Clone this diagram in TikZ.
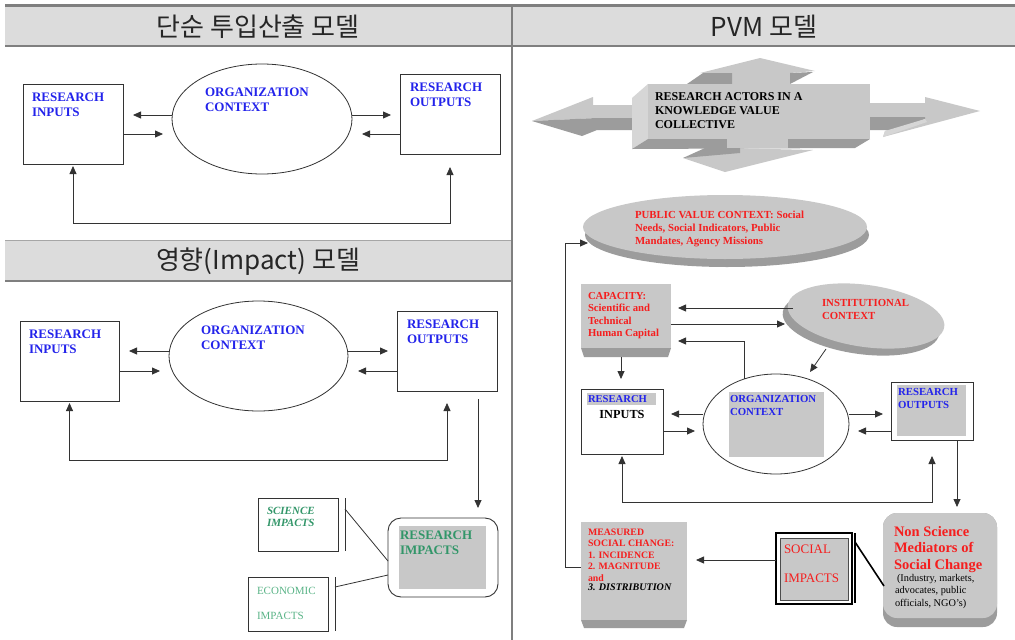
\documentclass[tikz,border=0pt]{standalone}
\usepackage{fontspec}
\setmainfont{Liberation Serif}
\newfontfamily\krfont{Noto Sans CJK KR}
\usetikzlibrary{arrows.meta,shapes.geometric,calc}
\definecolor{hdr}{HTML}{DCDCDC}
\definecolor{hdrline}{HTML}{7F7F7F}
\definecolor{blu}{RGB}{35,35,235}
\definecolor{grn}{RGB}{50,150,105}
\definecolor{grnl}{RGB}{90,180,135}
\definecolor{rd}{RGB}{245,30,30}
\definecolor{face}{HTML}{C8C8C8}
\definecolor{dark}{HTML}{9C9C9C}
\definecolor{lite}{HTML}{D6D6D6}
\definecolor{lnc}{HTML}{333333}
\newcommand{\myfs}[2]{\fontsize{#1}{#2}\selectfont}
\begin{document}
\begin{tikzpicture}[x=1pt,y=-1pt,
  bx/.style={draw=lnc, line width=0.8pt, fill=white, rectangle, inner sep=0pt, outer sep=0pt},
  el/.style={draw=lnc, line width=0.8pt, fill=white, ellipse, inner sep=0pt, outer sep=0pt},
  tx/.style={anchor=north west, inner sep=0pt, outer sep=0pt, align=left},
  ln/.style={draw=lnc, line width=0.8pt},
  arr/.style={ln, -{Triangle[length=8pt,width=7pt]}},
  arrb/.style={ln, {Triangle[length=8pt,width=7pt]}-{Triangle[length=8pt,width=7pt]}},
  hd/.style={inner sep=0pt, font=\krfont\myfs{26}{30}, text=black!85},
  flat/.style={fill=face, rectangle, inner sep=0pt, outer sep=0pt},
]
\useasboundingbox (0,0) rectangle (1015,640);
\fill[white] (0,0) rectangle (1015,640);
% headers
\fill[hdr] (5,7) rectangle (1015,46);
\fill[hdrline] (5,4) rectangle (1015,7);
\draw[hdrline, line width=1.2pt] (5,46) -- (1015,46);
\fill[hdr] (5,240) rectangle (512,281);
\draw[black!35, line width=0.8pt] (5,240) -- (512,240);
\draw[hdrline, line width=1.2pt] (5,281) -- (512,281);
\draw[hdrline, line width=1.2pt] (512,7) -- (512,640);
\node[hd] (h1) at (258,27) {단순 투입산출 모델};
\node[hd] (h2) at (764,27) {PVM 모델};
\node[hd] (h3) at (258,262) {영향(Impact) 모델};

% ---------- panel 1
\node[bx, minimum width=100pt, minimum height=80pt] (in1) at (73,124) {};
\node[el, minimum width=180pt, minimum height=110pt] (ell1) at (262,119) {};
\node[bx, minimum width=100pt, minimum height=80pt] (out1) at (450,114) {};
\node[tx, text=blu, font=\bfseries\myfs{13}{15}] (in1t) at (32,93) {RESEARCH\\INPUTS};
\node[tx, text=blu, font=\bfseries\myfs{13}{15}] (ell1t) at (205,88) {ORGANIZATION\\CONTEXT};
\node[tx, text=blu, font=\bfseries\myfs{13}{15}] (out1t) at (410,83) {RESEARCH\\OUTPUTS};
\draw[arr] ($(ell1.west)+(0,-4)$) -- ($(in1.east)+(10,-9)$);
\draw[arr] ($(in1.east)+(0,10)$) -- ($(ell1.west)+(-9,15)$);
\draw[arr] ($(ell1.east)+(0,-4)$) -- ($(out1.west)+(-9,1)$);
\draw[arr] ($(out1.west)+(0,20)$) -- ($(ell1.east)+(10,15)$);
\draw[arrb] ($(in1.south)+(0,2)$) |- ($(out1.south)+(0,69)$) -- ($(out1.south)+(0,13)$);

% ---------- panel 2
\node[bx, minimum width=99pt, minimum height=80pt] (in2) at (69.5,361) {};
\node[el, minimum width=179pt, minimum height=110pt] (ell2) at (258.5,356) {};
\node[bx, minimum width=100pt, minimum height=80pt] (out2) at (447,351) {};
\node[tx, text=blu, font=\bfseries\myfs{13}{15}] (in2t) at (29,330) {RESEARCH\\INPUTS};
\node[tx, text=blu, font=\bfseries\myfs{13}{15}] (ell2t) at (201,326) {ORGANIZATION\\CONTEXT};
\node[tx, text=blu, font=\bfseries\myfs{13}{15}] (out2t) at (407,320) {RESEARCH\\OUTPUTS};
\draw[arr] ($(ell2.west)+(0,-5)$) -- ($(in2.east)+(10,-10)$);
\draw[arr] ($(in2.east)+(0,10)$) -- ($(ell2.west)+(-9,15)$);
\draw[arr] ($(ell2.east)+(0,-5)$) -- ($(out2.west)+(-9,0)$);
\draw[arr] ($(out2.west)+(0,20)$) -- ($(ell2.east)+(10,15)$);
\draw[arrb] ($(in2.south)+(0,2)$) |- ($(out2.south)+(0,69)$) -- ($(out2.south)+(0,12)$);

\node[draw=lnc, line width=0.9pt, fill=white, rounded corners=13pt, minimum width=110pt, minimum height=79pt, inner sep=0pt, outer sep=0pt] (rimp) at (443,557.5) {};
\fill[face] (399,526) rectangle (486,589);
\node[tx, text=grn, font=\bfseries\myfs{13}{15}] (rimpt) at (400,531) {RESEARCH\\IMPACTS};
\coordinate (v2) at (478,399);
\draw[arr] (v2) -- ($(rimp.north)+(35,-10)$);

\node[bx, minimum width=80pt, minimum height=53pt] (sci) at (298,524.5) {};
\node[tx, text=grn, font=\bfseries\itshape\myfs{11}{12.7}] (scit) at (267,507) {SCIENCE\\IMPACTS};
\draw[ln] ($(sci.north east)+(7,0)$) -- ($(sci.south east)+(7,0)$);
\draw[ln] ($(sci.north east)+(7,11)$) -- ($(rimp.west)+(0,3.5)$);

\node[bx, minimum width=80pt, minimum height=54pt] (econ) at (288,604) {};
\node[tx, text=grnl, font=\myfs{11}{25}] (econt) at (257,587) {ECONOMIC\\IMPACTS};
\draw[ln] ($(econ.north east)+(7,0)$) -- ($(econ.south east)+(7,0)$);
\draw[ln] ($(econ.north east)+(7,10)$) -- ($(rimp.west)+(0,17.5)$);

% ---------- right panel: big 3D arrow
\fill[face] (532,121) -- (593,97) -- (593,105) -- (633,105) -- (633,118) -- (597,118) -- cycle;
\fill[dark] (532,121) -- (597,118) -- (633,118) -- (633,130) -- (597,130) -- (582,136) -- cycle;
\fill[face] (870,103) -- (925,103) -- (925,97) -- (980,111) -- (883,137) -- (885,131) -- (925,119) -- (925,117) -- (870,117) -- cycle;
\fill[dark] (870,117) -- (925,117) -- (925,119) -- (895,130) -- (870,130) -- cycle;
\fill[lite] (883,137) -- (885,131) -- (925,119) -- (927,122) -- cycle;
\fill[face] (700,73) -- (760,58) -- (815,71) -- (790,73) -- (790,84) -- (732,84) -- (732,73) -- cycle;
\fill[dark] (687,84) -- (703,73) -- (732,73) -- (732,84) -- cycle;
\fill[dark] (790,73) -- (813,72) -- (790,84) -- cycle;
\fill[lite] (632,98) -- (648,84) -- (648,139) -- (632,149) -- cycle;
\fill[face] (648,84) rectangle (870,139);
\fill[dark] (632,149) -- (648,139) -- (870,139) -- (855,148) -- cycle;
\fill[face] (727,139) rectangle (788,148);
\fill[face] (683,158) -- (727,148) -- (813,150) -- (725,172) -- cycle;
\fill[dark] (683,158) -- (705,148) -- (740,148) -- (740,153) -- cycle;
\node[tx, font=\bfseries\myfs{12}{14}] (bat) at (655,93) {RESEARCH ACTORS IN A\\KNOWLEDGE VALUE\\COLLECTIVE};

% public value context
\fill[dark] (727,235) ellipse [x radius=142pt, y radius=32pt];
\node[ellipse, fill=face, minimum width=284pt, minimum height=64pt, inner sep=0pt, outer sep=0pt] (pvc) at (725,227) {};
\node[tx, text=rd, font=\bfseries\myfs{10.8}{13}] (pvct) at (635,211) {PUBLIC VALUE CONTEXT: Social\\Needs, Social Indicators, Public\\Mandates, Agency Missions};

% capacity
\fill[dark] (581,348) -- (671,348) -- (668,357) -- (584,357) -- cycle;
\node[flat, minimum width=90pt, minimum height=64pt] (cap) at (626,316) {};
\node[tx, text=rd, font=\bfseries\myfs{10.7}{12.6}] (capt) at (588,292) {CAPACITY:\\Scientific and\\Technical\\Human Capital};

% institutional context
\fill[dark, rotate around={-8:(861,323)}] (861,323) ellipse [x radius=79pt, y radius=31pt];
\node[ellipse, fill=face, minimum width=158pt, minimum height=62pt, inner sep=0pt, outer sep=0pt, rotate=-8] (inst) at (866,316) {};
\node[tx, text=rd, font=\bfseries\myfs{10.8}{13.7}] (instt) at (822,299) {INSTITUTIONAL\\CONTEXT};

% inputs / org / outputs
\node[bx, minimum width=82pt, minimum height=65pt] (inr) at (622,421.5) {};
\fill[face] (587,393) rectangle (656,405);
\node[tx, text=blu, font=\bfseries\myfs{10.6}{13}] (inrt) at (588,395.5) {RESEARCH};
\node[anchor=north, inner sep=0pt, font=\bfseries\myfs{12.3}{14}] (inrt2) at (622,410) {INPUTS};
\node[el, minimum width=146pt, minimum height=100pt] (orgr) at (776,424) {};
\fill[face] (729,392) rectangle (824,457);
\node[tx, text=blu, font=\bfseries\myfs{10.8}{13}] (orgrt) at (730,395) {ORGANIZATION\\CONTEXT};
\node[bx, minimum width=82pt, minimum height=58pt] (outr) at (932,411) {};
\fill[face] (897,385) rectangle (966,436);
\node[tx, text=blu, font=\bfseries\myfs{10.8}{13}] (outrt) at (898,388) {RESEARCH\\OUTPUTS};

% measured social change
\fill[dark] (581,620) -- (687,620) -- (684,628) -- (584,628) -- cycle;
\node[flat, minimum width=106pt, minimum height=98pt] (msc) at (634,571) {};
\node[tx, text=rd, font=\bfseries\myfs{9.8}{11.4}] (msct) at (588,529) {MEASURED\\SOCIAL CHANGE:\\1. INCIDENCE\\2. MAGNITUDE\\and};
\node[tx, font=\bfseries\itshape\myfs{10.1}{12}] (msct2) at (588,584) {3. DISTRIBUTION};

% social impacts
\node[draw=black, line width=1.8pt, fill=white, minimum width=76pt, minimum height=71pt, inner sep=0pt, outer sep=0pt] (si) at (814,568.5) {};
\fill[face, draw=black!70, line width=0.5pt] (780,538) rectangle (848,600);
\node[tx, text=rd, font=\myfs{13}{29}] (sit) at (784,545) {SOCIAL\\IMPACTS};

% non science mediators
\fill[dark, rounded corners=14pt] (883,513) rectangle (997,627);
\node[fill=face, rounded corners=14pt, minimum width=114pt, minimum height=105pt, inner sep=0pt, outer sep=0pt] (ns) at (940,565.5) {};
\node[tx, text=rd, font=\bfseries\myfs{14.5}{16.5}] (nst) at (894,526) {Non Science\\Mediators of\\Social Change};
\node[tx, font=\myfs{10.3}{12.5}] (nst2) at (895,574) {\hspace{2pt}(Industry, markets,\\advocates, public\\officials, NGO’s)};

\draw[black, line width=1.6pt] ($(si.north east)+(3,0)$) -- ($(si.south east)+(3,-1)$);
\draw[black, line width=1.6pt] ($(si.north east)+(3,9)$) -- ($(ns.west)+(1,20.5)$);

% right panel connectors
\draw[arr] ($(msc.west)+(0,-4)$) -- ++(-16,0) |- ($(pvc.west)+(5,16)$);
\draw[arr] ($(inst.center)+(-73,-8)$) -- ($(cap.east)+(7,-8)$);
\draw[arr] ($(cap.east)+(0,8)$) -- ($(inst.center)+(-81,8)$);
\draw[arr] ($(orgr.center)+(-32,-45)$) |- ($(cap.east)+(7,25)$);
\draw[arr] ($(inst.center)+(-40,33)$) -- ($(orgr.center)+(34,-52)$);
\draw[arr] ($(cap.south)+(-5,9)$) -- ($(inr.north)+(-1,-10)$);
\draw[arr] ($(orgr.west)+(0,-10)$) -- ($(inr.east)+(8,-7.5)$);
\draw[arr] ($(inr.east)+(0,9.5)$) -- ($(orgr.west)+(-8,7)$);
\draw[arr] ($(orgr.east)+(0,-10)$) -- ($(outr.west)+(-8,3)$);
\draw[arr] ($(outr.west)+(0,20)$) -- ($(orgr.east)+(9,7)$);
\draw[arrb] ($(inr.south)+(0,2)$) |- ($(outr.south)+(0,62)$) -- ($(outr.south)+(0,16)$);
\draw[arr] ($(outr.south)+(25,0)$) -- ($(ns.north)+(17,-6)$);
\draw[arr] ($(si.west)+(0,-8.5)$) -- ($(msc.east)+(9,-11)$);
\end{tikzpicture}
\end{document}
